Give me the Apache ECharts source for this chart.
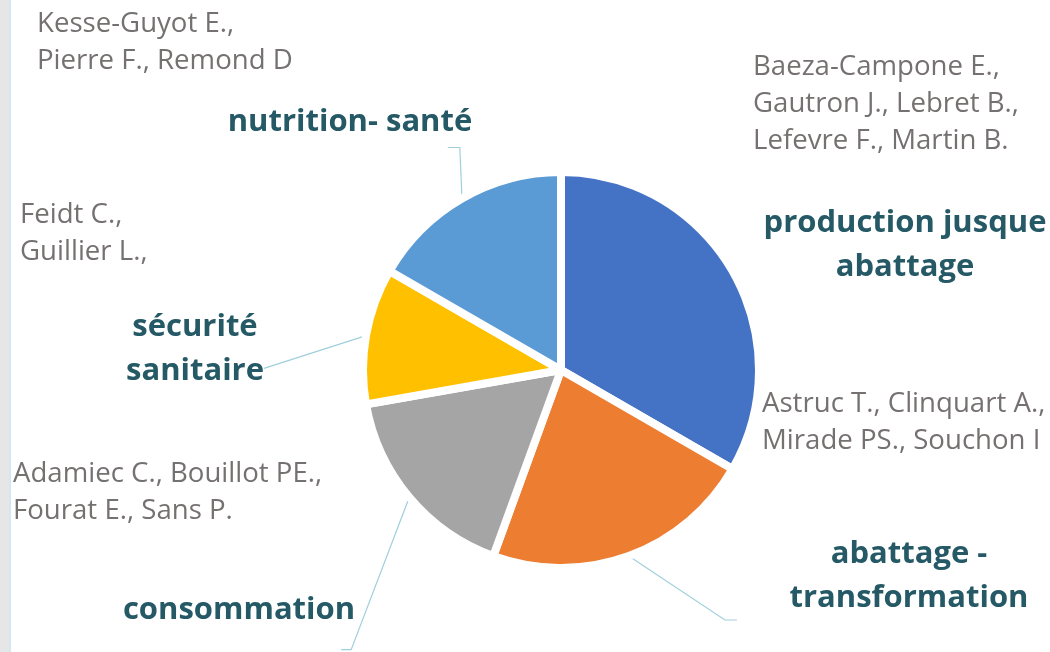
<!DOCTYPE html>
<html>
<head>
<meta charset="utf-8">
<script src="https://cdn.jsdelivr.net/npm/echarts@6/dist/echarts.min.js"></script>
<style>
  html, body { margin: 0; padding: 0; background: #fff; }
  #chart {
    width: 1050px;
    height: 652px;
    background: linear-gradient(to right, #e6e6e6 0, #e6e6e6 9px, #d3e7f0 9px, #d3e7f0 11px, #fff 11px);
  }
</style>
</head>
<body>
<div id="chart"></div>
<script>
  // slices clockwise from 12 o'clock
  const categories = [
    'production jusque\nabattage',
    'abattage -\ntransformation',
    'consommation',
    'sécurité\nsanitaire',
    'nutrition- santé'
  ];
  const values = [6, 4, 3, 2, 3];
  const authors = [
    'Baeza-Campone E.,\nGautron J., Lebret B.,\nLefevre F., Martin B.',
    'Astruc T., Clinquart A.,\nMirade PS., Souchon I',
    'Adamiec C., Bouillot PE.,\nFourat E., Sans P.',
    'Feidt C.,\nGuillier L.,',
    'Kesse-Guyot E.,\nPierre F., Remond D'
  ];
  const colors = ['#4472c4', '#ed7d31', '#a5a5a5', '#ffc000', '#5b9bd5'];

  // label centres; "end" = where the leader meets the label box (fraction of box), "tail" = last flat bit
  const labelPos = [
    { x: 905, y: 245, line: false },
    { x: 909, y: 576, end: [-0.22, 1.0], tail: -12 },
    { x: 239, y: 610, end: [0.94, 1.4], tail: 10 },
    { x: 195, y: 349, end: [1.0, 0.72], tail: 0 },
    { x: 350, y: 122, end: [0.9, 1.08], tail: 12 }
  ];
  // top-left corner of each author block
  const authorPos = [[753, 49], [762, 386], [13, 456], [20, 197], [37, 6]];

  const font = '"Open Sans", sans-serif';
  const chart = echarts.init(document.getElementById('chart'), null, { renderer: 'canvas' });

  const option = {
    animation: false,
    color: colors,
    graphic: authors.map((t, i) => ({
      type: 'text',
      left: authorPos[i][0],
      top: authorPos[i][1],
      silent: true,
      style: {
        text: t,
        font: '27.6px ' + font,
        fill: '#767171',
        lineHeight: 37
      }
    })),
    series: [{
      type: 'pie',
      center: [561, 370],
      radius: 198,
      startAngle: 90,
      avoidLabelOverlap: false,
      silent: true,
      itemStyle: {
        borderColor: '#fff',
        borderWidth: 8
      },
      label: {
        show: true,
        position: 'outside',
        formatter: '{b}',
        color: '#255966',
        fontFamily: font,
        fontSize: 31,
        fontWeight: 'bold',
        lineHeight: 44,
        align: 'center'
      },
      labelLine: {
        show: true,
        length: 10,
        length2: 10,
        lineStyle: { color: '#9fcfdc', width: 1.2 }
      },
      labelLayout: function (params) {
        const p = labelPos[params.dataIndex];
        const w = params.labelRect.width;
        const h = params.labelRect.height;
        const out = { x: p.x, y: p.y, align: 'center', verticalAlign: 'middle' };
        if (p.end && params.labelLinePoints) {
          const ex = p.x - w / 2 + p.end[0] * w;
          const ey = p.y - h / 2 + p.end[1] * h;
          out.labelLinePoints = [params.labelLinePoints[0], [ex + p.tail, ey], [ex, ey]];
        }
        return out;
      },
      data: categories.map((c, i) => ({
        name: c,
        value: values[i],
        labelLine: { show: labelPos[i].line !== false }
      }))
    }]
  };
  chart.setOption(option);
</script>
</body>
</html>
